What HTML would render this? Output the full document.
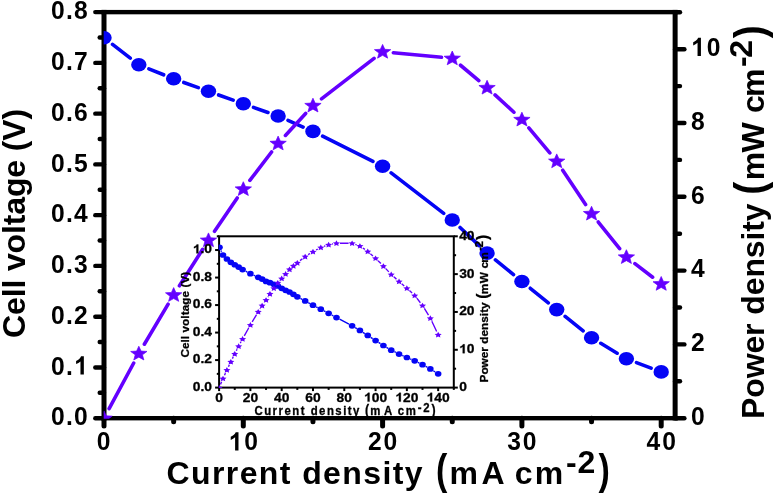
<!DOCTYPE html><html><head><meta charset="utf-8"><style>html,body{margin:0;padding:0;background:#fff;}svg{display:block;will-change:transform}</style></head><body>
<svg width="774" height="494" viewBox="0 0 774 494">
<rect width="774" height="494" fill="#fff"/>
<defs><clipPath id="cm"><rect x="103.70" y="12.12" width="571.43" height="406.58"/></clipPath><clipPath id="ci"><rect x="218.70" y="236.30" width="235.10" height="151.60"/></clipPath></defs>
<g transform="translate(51.03 425.30) scale(0.930 1.000)"><text x="0.00 16.04 24.71" y="0" style='font-family:"Liberation Sans",sans-serif;font-weight:bold;font-size:26.50px;white-space:pre' fill="#000">0.0</text></g>
<g transform="translate(51.03 374.54) scale(0.930 1.000)"><text x="0.00 16.06 24.74" y="0" style='font-family:"Liberation Sans",sans-serif;font-weight:bold;font-size:26.50px;white-space:pre' fill="#000">0. </text><path transform="translate(24.74 0) scale(0.01294 -0.01294)" d="M815 0L534 0L534 1010Q380 880 171 812L171 1052Q281 1088 409 1184Q537 1282 585 1409L815 1409Z" fill="#000"/></g>
<g transform="translate(51.03 323.78) scale(0.930 1.000)"><text x="0.00 16.05 24.71" y="0" style='font-family:"Liberation Sans",sans-serif;font-weight:bold;font-size:26.50px;white-space:pre' fill="#000">0.2</text></g>
<g transform="translate(51.03 273.02) scale(0.930 1.000)"><text x="0.00 16.05 24.72" y="0" style='font-family:"Liberation Sans",sans-serif;font-weight:bold;font-size:26.50px;white-space:pre' fill="#000">0.3</text></g>
<g transform="translate(51.03 222.26) scale(0.930 1.000)"><text x="0.00 16.08 24.78" y="0" style='font-family:"Liberation Sans",sans-serif;font-weight:bold;font-size:26.50px;white-space:pre' fill="#000">0.4</text></g>
<g transform="translate(51.03 171.50) scale(0.930 1.000)"><text x="0.00 16.06 24.74" y="0" style='font-family:"Liberation Sans",sans-serif;font-weight:bold;font-size:26.50px;white-space:pre' fill="#000">0.5</text></g>
<g transform="translate(51.03 120.74) scale(0.930 1.000)"><text x="0.00 16.05 24.72" y="0" style='font-family:"Liberation Sans",sans-serif;font-weight:bold;font-size:26.50px;white-space:pre' fill="#000">0.6</text></g>
<g transform="translate(51.03 69.98) scale(0.930 1.000)"><text x="0.00 16.04 24.71" y="0" style='font-family:"Liberation Sans",sans-serif;font-weight:bold;font-size:26.50px;white-space:pre' fill="#000">0.7</text></g>
<g transform="translate(51.03 19.22) scale(0.930 1.000)"><text x="0.00 16.05 24.73" y="0" style='font-family:"Liberation Sans",sans-serif;font-weight:bold;font-size:26.50px;white-space:pre' fill="#000">0.8</text></g>
<g transform="translate(96.70 450.40) scale(0.930 1.000)"><text x="0.00" y="0" style='font-family:"Liberation Sans",sans-serif;font-weight:bold;font-size:26.50px;white-space:pre' fill="#000">0</text></g>
<g transform="translate(228.68 450.40) scale(0.930 1.000)"><text x="0.00 16.75" y="0" style='font-family:"Liberation Sans",sans-serif;font-weight:bold;font-size:26.50px;white-space:pre' fill="#000"> 0</text><path transform="translate(0.00 0) scale(0.01294 -0.01294)" d="M815 0L534 0L534 1010Q380 880 171 812L171 1052Q281 1088 409 1184Q537 1282 585 1409L815 1409Z" fill="#000"/></g>
<g transform="translate(367.93 450.40) scale(0.930 1.000)"><text x="0.00 16.81" y="0" style='font-family:"Liberation Sans",sans-serif;font-weight:bold;font-size:26.50px;white-space:pre' fill="#000">20</text></g>
<g transform="translate(507.20 450.40) scale(0.930 1.000)"><text x="0.00 16.83" y="0" style='font-family:"Liberation Sans",sans-serif;font-weight:bold;font-size:26.50px;white-space:pre' fill="#000">30</text></g>
<g transform="translate(646.49 450.40) scale(0.930 1.000)"><text x="0.00 16.84" y="0" style='font-family:"Liberation Sans",sans-serif;font-weight:bold;font-size:26.50px;white-space:pre' fill="#000">40</text></g>
<g transform="translate(691.07 424.90) scale(0.930 1.000)"><text x="0.00" y="0" style='font-family:"Liberation Sans",sans-serif;font-weight:bold;font-size:26.50px;white-space:pre' fill="#000">0</text></g>
<g transform="translate(691.06 351.10) scale(0.930 1.000)"><text x="0.00" y="0" style='font-family:"Liberation Sans",sans-serif;font-weight:bold;font-size:26.50px;white-space:pre' fill="#000">2</text></g>
<g transform="translate(691.03 277.30) scale(0.930 1.000)"><text x="0.00" y="0" style='font-family:"Liberation Sans",sans-serif;font-weight:bold;font-size:26.50px;white-space:pre' fill="#000">4</text></g>
<g transform="translate(691.07 203.50) scale(0.930 1.000)"><text x="0.00" y="0" style='font-family:"Liberation Sans",sans-serif;font-weight:bold;font-size:26.50px;white-space:pre' fill="#000">6</text></g>
<g transform="translate(691.06 129.70) scale(0.930 1.000)"><text x="0.00" y="0" style='font-family:"Liberation Sans",sans-serif;font-weight:bold;font-size:26.50px;white-space:pre' fill="#000">8</text></g>
<g transform="translate(691.12 55.90) scale(0.930 1.000)"><text x="0.00 16.75" y="0" style='font-family:"Liberation Sans",sans-serif;font-weight:bold;font-size:26.50px;white-space:pre' fill="#000"> 0</text><path transform="translate(0.00 0) scale(0.01294 -0.01294)" d="M815 0L534 0L534 1010Q380 880 171 812L171 1052Q281 1088 409 1184Q537 1282 585 1409L815 1409Z" fill="#000"/></g>
<g transform="translate(166.49 483.90) scale(1.000 1.000)"><text x="0.00 24.51 45.46 59.31 73.16 92.36 113.31 125.36 135.65 156.60 175.80 196.74 215.94 226.23 238.29" y="0" style='font-family:"Liberation Sans",sans-serif;font-weight:bold;font-size:32.00px;white-space:pre' fill="#000">Current density</text></g>
<g transform="translate(435.91 483.90) scale(0.800 1.000)"><text x="0.00" y="0" style='font-family:"Liberation Sans",sans-serif;font-weight:bold;font-size:42.50px;white-space:pre' fill="#000">(</text></g>
<g transform="translate(449.39 483.90) scale(1.000 1.000)"><text x="0.00 32.14" y="0" style='font-family:"Liberation Sans",sans-serif;font-weight:bold;font-size:32.00px;white-space:pre' fill="#000">mA</text></g>
<g transform="translate(514.75 483.90) scale(1.000 1.000)"><text x="0.00 20.08" y="0" style='font-family:"Liberation Sans",sans-serif;font-weight:bold;font-size:32.00px;white-space:pre' fill="#000">cm</text></g>
<g transform="translate(566.05 473.30) scale(1.000 1.000)"><text x="0.00 11.53" y="0" style='font-family:"Liberation Sans",sans-serif;font-weight:bold;font-size:32.00px;white-space:pre' fill="#000">-2</text></g>
<g transform="translate(598.47 483.90) scale(0.800 1.000)"><text x="0.00" y="0" style='font-family:"Liberation Sans",sans-serif;font-weight:bold;font-size:42.50px;white-space:pre' fill="#000">)</text></g>
<g transform="translate(24.50 337.91) rotate(-90) scale(1.000 1.000)"><text x="0.00 22.97 40.62 49.37 58.11 66.86 84.52 103.92 112.67 123.18 140.83 160.24 177.89 186.64 197.15 218.35" y="0" style='font-family:"Liberation Sans",sans-serif;font-weight:bold;font-size:32.00px;white-space:pre' fill="#000">Cell voltage (V)</text></g>
<g transform="translate(764.00 419.04) rotate(-90) scale(1.000 1.000)"><text x="0.00 21.24 40.68 65.47 83.16 95.51 104.30 123.75 141.44 160.88 178.58 187.36 197.92" y="0" style='font-family:"Liberation Sans",sans-serif;font-weight:bold;font-size:32.00px;white-space:pre' fill="#000">Power density</text></g>
<g transform="translate(764.20 194.64) rotate(-90) scale(0.900 1.000)"><text x="0.00" y="0" style='font-family:"Liberation Sans",sans-serif;font-weight:bold;font-size:43.30px;white-space:pre' fill="#000">(</text></g>
<g transform="translate(764.00 180.21) rotate(-90) scale(1.000 1.000)"><text x="0.00 27.74" y="0" style='font-family:"Liberation Sans",sans-serif;font-weight:bold;font-size:32.00px;white-space:pre' fill="#000">mW</text></g>
<g transform="translate(764.00 112.95) rotate(-90) scale(1.000 1.000)"><text x="0.00 15.98" y="0" style='font-family:"Liberation Sans",sans-serif;font-weight:bold;font-size:32.00px;white-space:pre' fill="#000">cm</text></g>
<g transform="translate(751.80 66.95) rotate(-90) scale(1.000 1.000)"><text x="0.00 9.23" y="0" style='font-family:"Liberation Sans",sans-serif;font-weight:bold;font-size:32.00px;white-space:pre' fill="#000">-2</text></g>
<g transform="translate(764.20 38.34) rotate(-90) scale(0.900 1.000)"><text x="0.00" y="0" style='font-family:"Liberation Sans",sans-serif;font-weight:bold;font-size:43.30px;white-space:pre' fill="#000">)</text></g>
<g fill="#000">
<rect x="101.50" y="9.92" width="576.13" height="4.40"/>
<rect x="101.50" y="416.00" width="576.13" height="4.40"/>
<rect x="101.50" y="9.92" width="5.00" height="410.48"/>
<rect x="672.63" y="9.92" width="5.00" height="410.48"/>
</g>
<g stroke="#000" fill="none" stroke-linecap="round">
<line x1="104.00" y1="418.20" x2="95.30" y2="418.20" stroke-width="4.40"/>
<line x1="104.00" y1="392.82" x2="99.70" y2="392.82" stroke-width="4.40"/>
<line x1="104.00" y1="367.44" x2="95.30" y2="367.44" stroke-width="4.40"/>
<line x1="104.00" y1="342.06" x2="99.70" y2="342.06" stroke-width="4.40"/>
<line x1="104.00" y1="316.68" x2="95.30" y2="316.68" stroke-width="4.40"/>
<line x1="104.00" y1="291.30" x2="99.70" y2="291.30" stroke-width="4.40"/>
<line x1="104.00" y1="265.92" x2="95.30" y2="265.92" stroke-width="4.40"/>
<line x1="104.00" y1="240.54" x2="99.70" y2="240.54" stroke-width="4.40"/>
<line x1="104.00" y1="215.16" x2="95.30" y2="215.16" stroke-width="4.40"/>
<line x1="104.00" y1="189.78" x2="99.70" y2="189.78" stroke-width="4.40"/>
<line x1="104.00" y1="164.40" x2="95.30" y2="164.40" stroke-width="4.40"/>
<line x1="104.00" y1="139.02" x2="99.70" y2="139.02" stroke-width="4.40"/>
<line x1="104.00" y1="113.64" x2="95.30" y2="113.64" stroke-width="4.40"/>
<line x1="104.00" y1="88.26" x2="99.70" y2="88.26" stroke-width="4.40"/>
<line x1="104.00" y1="62.88" x2="95.30" y2="62.88" stroke-width="4.40"/>
<line x1="104.00" y1="37.50" x2="99.70" y2="37.50" stroke-width="4.40"/>
<line x1="104.00" y1="12.12" x2="95.30" y2="12.12" stroke-width="4.40"/>
<line x1="104.00" y1="418.20" x2="104.00" y2="426.00" stroke-width="5.00"/>
<line x1="173.65" y1="418.20" x2="173.65" y2="421.80" stroke-width="5.00"/>
<line x1="243.30" y1="418.20" x2="243.30" y2="426.00" stroke-width="5.00"/>
<line x1="312.95" y1="418.20" x2="312.95" y2="421.80" stroke-width="5.00"/>
<line x1="382.60" y1="418.20" x2="382.60" y2="426.00" stroke-width="5.00"/>
<line x1="452.25" y1="418.20" x2="452.25" y2="421.80" stroke-width="5.00"/>
<line x1="521.90" y1="418.20" x2="521.90" y2="426.00" stroke-width="5.00"/>
<line x1="591.55" y1="418.20" x2="591.55" y2="421.80" stroke-width="5.00"/>
<line x1="661.20" y1="418.20" x2="661.20" y2="426.00" stroke-width="5.00"/>
<line x1="675.13" y1="418.20" x2="684.40" y2="418.20" stroke-width="4.40"/>
<line x1="675.13" y1="381.30" x2="680.00" y2="381.30" stroke-width="4.40"/>
<line x1="675.13" y1="344.40" x2="684.40" y2="344.40" stroke-width="4.40"/>
<line x1="675.13" y1="307.50" x2="680.00" y2="307.50" stroke-width="4.40"/>
<line x1="675.13" y1="270.60" x2="684.40" y2="270.60" stroke-width="4.40"/>
<line x1="675.13" y1="233.70" x2="680.00" y2="233.70" stroke-width="4.40"/>
<line x1="675.13" y1="196.80" x2="684.40" y2="196.80" stroke-width="4.40"/>
<line x1="675.13" y1="159.90" x2="680.00" y2="159.90" stroke-width="4.40"/>
<line x1="675.13" y1="123.00" x2="684.40" y2="123.00" stroke-width="4.40"/>
<line x1="675.13" y1="86.10" x2="680.00" y2="86.10" stroke-width="4.40"/>
<line x1="675.13" y1="49.20" x2="684.40" y2="49.20" stroke-width="4.40"/>
<line x1="675.13" y1="12.30" x2="680.00" y2="12.30" stroke-width="4.40"/>
</g>
<g clip-path="url(#cm)">
<path d="M112.54 44.42 L130.29 58.18 M148.85 68.83 L163.63 74.77 M183.82 82.45 L198.31 87.65 M218.64 94.95 L233.13 100.15 M253.49 107.37 L267.93 112.43 M288.00 120.37 L303.07 127.03 M322.61 136.23 L372.94 161.37 M391.15 172.80 L443.70 213.40 M460.08 227.44 L479.25 245.66 M495.44 259.93 L513.53 274.67 M530.31 288.28 L548.32 302.82 M565.13 316.38 L583.14 330.92 M600.79 343.30 L617.14 353.20 M636.48 362.60 L651.09 368.10" fill="none" stroke="#0505f5" stroke-width="3.60" stroke-linecap="round"/>
<ellipse cx="104.00" cy="37.80" rx="7.7" ry="6.8" fill="#0505f5"/>
<ellipse cx="138.82" cy="64.80" rx="7.7" ry="6.8" fill="#0505f5"/>
<ellipse cx="173.65" cy="78.80" rx="7.7" ry="6.8" fill="#0505f5"/>
<ellipse cx="208.47" cy="91.30" rx="7.7" ry="6.8" fill="#0505f5"/>
<ellipse cx="243.30" cy="103.80" rx="7.7" ry="6.8" fill="#0505f5"/>
<ellipse cx="278.12" cy="116.00" rx="7.7" ry="6.8" fill="#0505f5"/>
<ellipse cx="312.95" cy="131.40" rx="7.7" ry="6.8" fill="#0505f5"/>
<ellipse cx="382.60" cy="166.20" rx="7.7" ry="6.8" fill="#0505f5"/>
<ellipse cx="452.25" cy="220.00" rx="7.7" ry="6.8" fill="#0505f5"/>
<ellipse cx="487.07" cy="253.10" rx="7.7" ry="6.8" fill="#0505f5"/>
<ellipse cx="521.90" cy="281.50" rx="7.7" ry="6.8" fill="#0505f5"/>
<ellipse cx="556.72" cy="309.60" rx="7.7" ry="6.8" fill="#0505f5"/>
<ellipse cx="591.55" cy="337.70" rx="7.7" ry="6.8" fill="#0505f5"/>
<ellipse cx="626.38" cy="358.80" rx="7.7" ry="6.8" fill="#0505f5"/>
<ellipse cx="661.20" cy="371.90" rx="7.7" ry="6.8" fill="#0505f5"/>
<path d="M109.12 408.69 L133.71 363.01 M144.34 344.22 L168.13 304.18 M179.45 285.79 L202.67 249.31 M214.55 231.27 L237.23 197.93 M249.86 180.42 L271.57 151.98 M285.43 135.45 L305.64 113.45 M321.50 98.90 L374.05 58.30 M393.35 52.72 L441.50 57.28 M460.51 65.25 L478.81 80.65 M495.04 94.89 L513.94 112.21 M528.82 127.79 L549.80 152.91 M562.70 170.19 L585.57 204.61 M598.31 222.02 L619.62 248.58 M634.93 263.59 L652.64 277.21" fill="none" stroke="#6400ff" stroke-width="3.60" stroke-linecap="round"/>
<path d="M104.00 410.90 L106.22 415.79 L112.17 416.15 L107.59 419.53 L109.05 424.65 L104.00 421.84 L98.95 424.65 L100.41 419.53 L95.83 416.15 L101.78 415.79Z" fill="#6400ff" stroke="#6400ff" stroke-width="0.7" stroke-linejoin="round"/>
<path d="M138.82 346.20 L141.05 351.09 L146.99 351.45 L142.42 354.83 L143.87 359.95 L138.82 357.14 L133.78 359.95 L135.23 354.83 L130.66 351.45 L136.60 351.09Z" fill="#6400ff" stroke="#6400ff" stroke-width="0.7" stroke-linejoin="round"/>
<path d="M173.65 287.60 L175.87 292.49 L181.82 292.85 L177.24 296.23 L178.70 301.35 L173.65 298.54 L168.60 301.35 L170.06 296.23 L165.48 292.85 L171.43 292.49Z" fill="#6400ff" stroke="#6400ff" stroke-width="0.7" stroke-linejoin="round"/>
<path d="M208.47 232.90 L210.70 237.79 L216.64 238.15 L212.07 241.53 L213.52 246.65 L208.47 243.84 L203.43 246.65 L204.88 241.53 L200.31 238.15 L206.25 237.79Z" fill="#6400ff" stroke="#6400ff" stroke-width="0.7" stroke-linejoin="round"/>
<path d="M243.30 181.70 L245.52 186.59 L251.47 186.95 L246.89 190.33 L248.35 195.45 L243.30 192.64 L238.25 195.45 L239.71 190.33 L235.13 186.95 L241.08 186.59Z" fill="#6400ff" stroke="#6400ff" stroke-width="0.7" stroke-linejoin="round"/>
<path d="M278.12 136.10 L280.35 140.99 L286.29 141.35 L281.72 144.73 L283.17 149.85 L278.12 147.04 L273.08 149.85 L274.53 144.73 L269.96 141.35 L275.90 140.99Z" fill="#6400ff" stroke="#6400ff" stroke-width="0.7" stroke-linejoin="round"/>
<path d="M312.95 98.20 L315.17 103.09 L321.12 103.45 L316.54 106.83 L318.00 111.95 L312.95 109.14 L307.90 111.95 L309.36 106.83 L304.78 103.45 L310.73 103.09Z" fill="#6400ff" stroke="#6400ff" stroke-width="0.7" stroke-linejoin="round"/>
<path d="M382.60 44.40 L384.82 49.29 L390.77 49.65 L386.19 53.03 L387.65 58.15 L382.60 55.34 L377.55 58.15 L379.01 53.03 L374.43 49.65 L380.38 49.29Z" fill="#6400ff" stroke="#6400ff" stroke-width="0.7" stroke-linejoin="round"/>
<path d="M452.25 51.00 L454.47 55.89 L460.42 56.25 L455.84 59.63 L457.30 64.75 L452.25 61.94 L447.20 64.75 L448.66 59.63 L444.08 56.25 L450.03 55.89Z" fill="#6400ff" stroke="#6400ff" stroke-width="0.7" stroke-linejoin="round"/>
<path d="M487.07 80.30 L489.30 85.19 L495.24 85.55 L490.67 88.93 L492.12 94.05 L487.07 91.24 L482.03 94.05 L483.48 88.93 L478.91 85.55 L484.85 85.19Z" fill="#6400ff" stroke="#6400ff" stroke-width="0.7" stroke-linejoin="round"/>
<path d="M521.90 112.20 L524.12 117.09 L530.07 117.45 L525.49 120.83 L526.95 125.95 L521.90 123.14 L516.85 125.95 L518.31 120.83 L513.73 117.45 L519.68 117.09Z" fill="#6400ff" stroke="#6400ff" stroke-width="0.7" stroke-linejoin="round"/>
<path d="M556.72 153.90 L558.95 158.79 L564.89 159.15 L560.32 162.53 L561.77 167.65 L556.72 164.84 L551.68 167.65 L553.13 162.53 L548.56 159.15 L554.50 158.79Z" fill="#6400ff" stroke="#6400ff" stroke-width="0.7" stroke-linejoin="round"/>
<path d="M591.55 206.30 L593.77 211.19 L599.72 211.55 L595.14 214.93 L596.60 220.05 L591.55 217.24 L586.50 220.05 L587.96 214.93 L583.38 211.55 L589.33 211.19Z" fill="#6400ff" stroke="#6400ff" stroke-width="0.7" stroke-linejoin="round"/>
<path d="M626.38 249.70 L628.60 254.59 L634.54 254.95 L629.97 258.33 L631.42 263.45 L626.38 260.64 L621.33 263.45 L622.78 258.33 L618.21 254.95 L624.15 254.59Z" fill="#6400ff" stroke="#6400ff" stroke-width="0.7" stroke-linejoin="round"/>
<path d="M661.20 276.50 L663.42 281.39 L669.37 281.75 L664.79 285.13 L666.25 290.25 L661.20 287.44 L656.15 290.25 L657.61 285.13 L653.03 281.75 L658.98 281.39Z" fill="#6400ff" stroke="#6400ff" stroke-width="0.7" stroke-linejoin="round"/>
</g>
<g transform="translate(192.82 390.90) scale(1.080 1.000)"><text x="0.00 7.12 10.67" y="0" style='font-family:"Liberation Sans",sans-serif;font-weight:bold;font-size:12.80px;white-space:pre' fill="#000" stroke="#000" stroke-width="0.30" stroke-linejoin="round">0.0</text></g>
<g transform="translate(192.82 363.39) scale(1.080 1.000)"><text x="0.00 7.12 10.67" y="0" style='font-family:"Liberation Sans",sans-serif;font-weight:bold;font-size:12.80px;white-space:pre' fill="#000" stroke="#000" stroke-width="0.30" stroke-linejoin="round">0.2</text></g>
<g transform="translate(192.79 335.88) scale(1.080 1.000)"><text x="0.00 7.12 10.68" y="0" style='font-family:"Liberation Sans",sans-serif;font-weight:bold;font-size:12.80px;white-space:pre' fill="#000" stroke="#000" stroke-width="0.30" stroke-linejoin="round">0.4</text></g>
<g transform="translate(192.82 308.37) scale(1.080 1.000)"><text x="0.00 7.12 10.67" y="0" style='font-family:"Liberation Sans",sans-serif;font-weight:bold;font-size:12.80px;white-space:pre' fill="#000" stroke="#000" stroke-width="0.30" stroke-linejoin="round">0.6</text></g>
<g transform="translate(192.81 280.86) scale(1.080 1.000)"><text x="0.00 7.12 10.68" y="0" style='font-family:"Liberation Sans",sans-serif;font-weight:bold;font-size:12.80px;white-space:pre' fill="#000" stroke="#000" stroke-width="0.30" stroke-linejoin="round">0.8</text></g>
<g transform="translate(192.82 253.35) scale(1.080 1.000)"><text x="0.00 7.12 10.68" y="0" style='font-family:"Liberation Sans",sans-serif;font-weight:bold;font-size:12.80px;white-space:pre' fill="#000" stroke="#000" stroke-width="0.30" stroke-linejoin="round"> .0</text><path transform="translate(0.00 0) scale(0.00625 -0.00625)" d="M815 0L534 0L534 1010Q380 880 171 812L171 1052Q281 1088 409 1184Q537 1282 585 1409L815 1409Z" fill="#000" stroke="#000" stroke-width="48.0" stroke-linejoin="round"/></g>
<g transform="translate(215.26 401.60) scale(1.080 1.000)"><text x="0.00" y="0" style='font-family:"Liberation Sans",sans-serif;font-weight:bold;font-size:12.80px;white-space:pre' fill="#000" stroke="#000" stroke-width="0.30" stroke-linejoin="round">0</text></g>
<g transform="translate(242.71 401.60) scale(1.080 1.000)"><text x="0.00 7.12" y="0" style='font-family:"Liberation Sans",sans-serif;font-weight:bold;font-size:12.80px;white-space:pre' fill="#000" stroke="#000" stroke-width="0.30" stroke-linejoin="round">20</text></g>
<g transform="translate(274.01 401.60) scale(1.080 1.000)"><text x="0.00 7.12" y="0" style='font-family:"Liberation Sans",sans-serif;font-weight:bold;font-size:12.80px;white-space:pre' fill="#000" stroke="#000" stroke-width="0.30" stroke-linejoin="round">40</text></g>
<g transform="translate(305.30 401.60) scale(1.080 1.000)"><text x="0.00 7.12" y="0" style='font-family:"Liberation Sans",sans-serif;font-weight:bold;font-size:12.80px;white-space:pre' fill="#000" stroke="#000" stroke-width="0.30" stroke-linejoin="round">60</text></g>
<g transform="translate(336.59 401.60) scale(1.080 1.000)"><text x="0.00 7.12" y="0" style='font-family:"Liberation Sans",sans-serif;font-weight:bold;font-size:12.80px;white-space:pre' fill="#000" stroke="#000" stroke-width="0.30" stroke-linejoin="round">80</text></g>
<g transform="translate(364.03 401.60) scale(1.080 1.000)"><text x="0.00 7.12 14.24" y="0" style='font-family:"Liberation Sans",sans-serif;font-weight:bold;font-size:12.80px;white-space:pre' fill="#000" stroke="#000" stroke-width="0.30" stroke-linejoin="round"> 00</text><path transform="translate(0.00 0) scale(0.00625 -0.00625)" d="M815 0L534 0L534 1010Q380 880 171 812L171 1052Q281 1088 409 1184Q537 1282 585 1409L815 1409Z" fill="#000" stroke="#000" stroke-width="48.0" stroke-linejoin="round"/></g>
<g transform="translate(395.32 401.60) scale(1.080 1.000)"><text x="0.00 7.12 14.24" y="0" style='font-family:"Liberation Sans",sans-serif;font-weight:bold;font-size:12.80px;white-space:pre' fill="#000" stroke="#000" stroke-width="0.30" stroke-linejoin="round"> 20</text><path transform="translate(0.00 0) scale(0.00625 -0.00625)" d="M815 0L534 0L534 1010Q380 880 171 812L171 1052Q281 1088 409 1184Q537 1282 585 1409L815 1409Z" fill="#000" stroke="#000" stroke-width="48.0" stroke-linejoin="round"/></g>
<g transform="translate(426.61 401.60) scale(1.080 1.000)"><text x="0.00 7.12 14.24" y="0" style='font-family:"Liberation Sans",sans-serif;font-weight:bold;font-size:12.80px;white-space:pre' fill="#000" stroke="#000" stroke-width="0.30" stroke-linejoin="round"> 40</text><path transform="translate(0.00 0) scale(0.00625 -0.00625)" d="M815 0L534 0L534 1010Q380 880 171 812L171 1052Q281 1088 409 1184Q537 1282 585 1409L815 1409Z" fill="#000" stroke="#000" stroke-width="48.0" stroke-linejoin="round"/></g>
<g transform="translate(459.16 391.00) scale(1.080 1.000)"><text x="0.00" y="0" style='font-family:"Liberation Sans",sans-serif;font-weight:bold;font-size:12.80px;white-space:pre' fill="#000" stroke="#000" stroke-width="0.30" stroke-linejoin="round">0</text></g>
<g transform="translate(459.14 353.18) scale(1.080 1.000)"><text x="0.00 7.12" y="0" style='font-family:"Liberation Sans",sans-serif;font-weight:bold;font-size:12.80px;white-space:pre' fill="#000" stroke="#000" stroke-width="0.30" stroke-linejoin="round"> 0</text><path transform="translate(0.00 0) scale(0.00625 -0.00625)" d="M815 0L534 0L534 1010Q380 880 171 812L171 1052Q281 1088 409 1184Q537 1282 585 1409L815 1409Z" fill="#000" stroke="#000" stroke-width="48.0" stroke-linejoin="round"/></g>
<g transform="translate(459.16 315.35) scale(1.080 1.000)"><text x="0.00 7.12" y="0" style='font-family:"Liberation Sans",sans-serif;font-weight:bold;font-size:12.80px;white-space:pre' fill="#000" stroke="#000" stroke-width="0.30" stroke-linejoin="round">20</text></g>
<g transform="translate(459.18 277.52) scale(1.080 1.000)"><text x="0.00 7.12" y="0" style='font-family:"Liberation Sans",sans-serif;font-weight:bold;font-size:12.80px;white-space:pre' fill="#000" stroke="#000" stroke-width="0.30" stroke-linejoin="round">30</text></g>
<g transform="translate(459.18 239.70) scale(1.080 1.000)"><text x="0.00 7.12" y="0" style='font-family:"Liberation Sans",sans-serif;font-weight:bold;font-size:12.80px;white-space:pre' fill="#000" stroke="#000" stroke-width="0.30" stroke-linejoin="round">40</text></g>
<g transform="translate(254.43 414.80) scale(0.950 1.000)"><text x="0.00 10.23 19.12 25.35 31.59 39.82 48.71 54.27 59.17 68.06 76.30 85.19 93.43 98.32 103.88" y="0" style='font-family:"Liberation Sans",sans-serif;font-weight:bold;font-size:12.00px;white-space:pre' fill="#000" stroke="#000" stroke-width="0.30" stroke-linejoin="round">Current density</text></g>
<g transform="translate(364.88 414.80) scale(0.800 1.000)"><text x="0.00" y="0" style='font-family:"Liberation Sans",sans-serif;font-weight:bold;font-size:15.50px;white-space:pre' fill="#000" stroke="#000" stroke-width="0.30" stroke-linejoin="round">(</text></g>
<g transform="translate(370.25 414.80) scale(0.950 1.000)"><text x="0.00 14.44" y="0" style='font-family:"Liberation Sans",sans-serif;font-weight:bold;font-size:12.00px;white-space:pre' fill="#000" stroke="#000" stroke-width="0.30" stroke-linejoin="round">mA</text></g>
<g transform="translate(397.65 414.80) scale(0.950 1.000)"><text x="0.00 8.54" y="0" style='font-family:"Liberation Sans",sans-serif;font-weight:bold;font-size:12.00px;white-space:pre' fill="#000" stroke="#000" stroke-width="0.30" stroke-linejoin="round">cm</text></g>
<g transform="translate(417.85 412.40) scale(0.950 1.000)"><text x="0.00 5.64" y="0" style='font-family:"Liberation Sans",sans-serif;font-weight:bold;font-size:12.00px;white-space:pre' fill="#000" stroke="#000" stroke-width="0.30" stroke-linejoin="round">-2</text></g>
<g transform="translate(431.49 414.80) scale(0.800 1.000)"><text x="0.00" y="0" style='font-family:"Liberation Sans",sans-serif;font-weight:bold;font-size:15.50px;white-space:pre' fill="#000" stroke="#000" stroke-width="0.30" stroke-linejoin="round">)</text></g>
<g transform="translate(188.50 357.58) rotate(-90) scale(1.000 1.000)"><text x="0.00 8.53 15.12 18.46 21.79 25.12 31.71 38.94 42.28 46.26 52.85 60.08 66.67 70.00 73.98 81.87" y="0" style='font-family:"Liberation Sans",sans-serif;font-weight:bold;font-size:11.70px;white-space:pre' fill="#000" stroke="#000" stroke-width="0.30" stroke-linejoin="round">Cell voltage (V)</text></g>
<g transform="translate(488.40 382.49) rotate(-90) scale(1.000 1.000)"><text x="0.00 7.88 15.10 24.29 30.87 35.47 38.77 45.99 52.56 59.78 66.36 69.65 73.59" y="0" style='font-family:"Liberation Sans",sans-serif;font-weight:bold;font-size:11.80px;white-space:pre' fill="#000" stroke="#000" stroke-width="0.30" stroke-linejoin="round">Power density</text></g>
<g transform="translate(488.10 298.68) rotate(-90) scale(1.000 1.000)"><text x="0.00" y="0" style='font-family:"Liberation Sans",sans-serif;font-weight:bold;font-size:15.70px;white-space:pre' fill="#000" stroke="#000" stroke-width="0.30" stroke-linejoin="round">(</text></g>
<g transform="translate(488.40 294.28) rotate(-90) scale(1.000 1.000)"><text x="0.00 11.15" y="0" style='font-family:"Liberation Sans",sans-serif;font-weight:bold;font-size:11.80px;white-space:pre' fill="#000" stroke="#000" stroke-width="0.30" stroke-linejoin="round">mW</text></g>
<g transform="translate(488.40 268.46) rotate(-90) scale(1.000 1.000)"><text x="0.00 5.70" y="0" style='font-family:"Liberation Sans",sans-serif;font-weight:bold;font-size:11.80px;white-space:pre' fill="#000" stroke="#000" stroke-width="0.30" stroke-linejoin="round">cm</text></g>
<g transform="translate(482.60 250.66) rotate(-90) scale(1.000 1.000)"><text x="0.00 3.27" y="0" style='font-family:"Liberation Sans",sans-serif;font-weight:bold;font-size:11.80px;white-space:pre' fill="#000" stroke="#000" stroke-width="0.30" stroke-linejoin="round">-2</text></g>
<g transform="translate(488.10 240.12) rotate(-90) scale(1.000 1.000)"><text x="0.00" y="0" style='font-family:"Liberation Sans",sans-serif;font-weight:bold;font-size:15.70px;white-space:pre' fill="#000" stroke="#000" stroke-width="0.30" stroke-linejoin="round">)</text></g>
<g stroke="#000" stroke-width="2.00" fill="none" stroke-linecap="butt">
<rect x="219.10" y="236.30" width="234.70" height="151.30"/>
<line x1="219.10" y1="387.60" x2="215.10" y2="387.60"/>
<line x1="219.10" y1="373.85" x2="216.80" y2="373.85"/>
<line x1="219.10" y1="360.09" x2="215.10" y2="360.09"/>
<line x1="219.10" y1="346.34" x2="216.80" y2="346.34"/>
<line x1="219.10" y1="332.58" x2="215.10" y2="332.58"/>
<line x1="219.10" y1="318.83" x2="216.80" y2="318.83"/>
<line x1="219.10" y1="305.07" x2="215.10" y2="305.07"/>
<line x1="219.10" y1="291.32" x2="216.80" y2="291.32"/>
<line x1="219.10" y1="277.56" x2="215.10" y2="277.56"/>
<line x1="219.10" y1="263.81" x2="216.80" y2="263.81"/>
<line x1="219.10" y1="250.05" x2="215.10" y2="250.05"/>
<line x1="219.10" y1="236.30" x2="216.80" y2="236.30"/>
<line x1="219.10" y1="387.60" x2="219.10" y2="391.10"/>
<line x1="234.75" y1="387.60" x2="234.75" y2="389.90"/>
<line x1="250.39" y1="387.60" x2="250.39" y2="391.10"/>
<line x1="266.04" y1="387.60" x2="266.04" y2="389.90"/>
<line x1="281.69" y1="387.60" x2="281.69" y2="391.10"/>
<line x1="297.33" y1="387.60" x2="297.33" y2="389.90"/>
<line x1="312.98" y1="387.60" x2="312.98" y2="391.10"/>
<line x1="328.63" y1="387.60" x2="328.63" y2="389.90"/>
<line x1="344.28" y1="387.60" x2="344.28" y2="391.10"/>
<line x1="359.92" y1="387.60" x2="359.92" y2="389.90"/>
<line x1="375.57" y1="387.60" x2="375.57" y2="391.10"/>
<line x1="391.22" y1="387.60" x2="391.22" y2="389.90"/>
<line x1="406.86" y1="387.60" x2="406.86" y2="391.10"/>
<line x1="422.51" y1="387.60" x2="422.51" y2="389.90"/>
<line x1="438.16" y1="387.60" x2="438.16" y2="391.10"/>
<line x1="453.80" y1="387.60" x2="453.80" y2="389.90"/>
<line x1="453.80" y1="387.60" x2="457.80" y2="387.60"/>
<line x1="453.80" y1="368.69" x2="456.10" y2="368.69"/>
<line x1="453.80" y1="349.78" x2="457.80" y2="349.78"/>
<line x1="453.80" y1="330.86" x2="456.10" y2="330.86"/>
<line x1="453.80" y1="311.95" x2="457.80" y2="311.95"/>
<line x1="453.80" y1="293.04" x2="456.10" y2="293.04"/>
<line x1="453.80" y1="274.12" x2="457.80" y2="274.12"/>
<line x1="453.80" y1="255.21" x2="456.10" y2="255.21"/>
<line x1="453.80" y1="236.30" x2="457.80" y2="236.30"/>
</g>
<g clip-path="url(#ci)">
<path d="M220.95 250.49 L221.56 251.82 M245.67 271.22 L247.30 272.08 M253.58 275.17 L255.03 275.83 M300.43 298.45 L302.06 299.31 M308.23 302.62 L309.91 303.54 M316.10 306.80 L317.69 307.61 M323.90 310.83 L325.53 311.69 M331.70 315.00 L333.38 315.91 M339.55 319.22 L349.00 324.21 M355.13 327.60 L356.90 328.62 M362.86 332.29 L364.81 333.56 M370.68 337.38 L372.64 338.65 M378.53 342.43 L380.44 343.64 M386.40 347.31 L388.21 348.39 M394.36 351.73 L395.90 352.49 M402.24 355.45 L403.66 356.07 M410.09 358.84 L411.46 359.42 M417.83 362.32 L419.37 363.08 M425.58 366.30 L427.26 367.22 M433.29 370.77 L435.20 371.97" fill="none" stroke="#0505f5" stroke-width="1.40" stroke-linecap="butt"/>
<ellipse cx="219.50" cy="247.30" rx="3.3" ry="2.85" fill="#0505f5"/>
<ellipse cx="223.01" cy="255.01" rx="3.3" ry="2.85" fill="#0505f5"/>
<ellipse cx="226.92" cy="259.00" rx="3.3" ry="2.85" fill="#0505f5"/>
<ellipse cx="230.84" cy="262.30" rx="3.3" ry="2.85" fill="#0505f5"/>
<ellipse cx="234.75" cy="264.77" rx="3.3" ry="2.85" fill="#0505f5"/>
<ellipse cx="238.66" cy="267.11" rx="3.3" ry="2.85" fill="#0505f5"/>
<ellipse cx="242.57" cy="269.59" rx="3.3" ry="2.85" fill="#0505f5"/>
<ellipse cx="250.39" cy="273.71" rx="3.3" ry="2.85" fill="#0505f5"/>
<ellipse cx="258.22" cy="277.29" rx="3.3" ry="2.85" fill="#0505f5"/>
<ellipse cx="262.13" cy="279.08" rx="3.3" ry="2.85" fill="#0505f5"/>
<ellipse cx="266.04" cy="281.41" rx="3.3" ry="2.85" fill="#0505f5"/>
<ellipse cx="269.95" cy="282.65" rx="3.3" ry="2.85" fill="#0505f5"/>
<ellipse cx="273.86" cy="284.30" rx="3.3" ry="2.85" fill="#0505f5"/>
<ellipse cx="277.78" cy="285.95" rx="3.3" ry="2.85" fill="#0505f5"/>
<ellipse cx="281.69" cy="288.29" rx="3.3" ry="2.85" fill="#0505f5"/>
<ellipse cx="285.60" cy="290.36" rx="3.3" ry="2.85" fill="#0505f5"/>
<ellipse cx="289.51" cy="292.01" rx="3.3" ry="2.85" fill="#0505f5"/>
<ellipse cx="293.42" cy="294.34" rx="3.3" ry="2.85" fill="#0505f5"/>
<ellipse cx="297.33" cy="296.82" rx="3.3" ry="2.85" fill="#0505f5"/>
<ellipse cx="305.16" cy="300.95" rx="3.3" ry="2.85" fill="#0505f5"/>
<ellipse cx="312.98" cy="305.21" rx="3.3" ry="2.85" fill="#0505f5"/>
<ellipse cx="320.81" cy="309.20" rx="3.3" ry="2.85" fill="#0505f5"/>
<ellipse cx="328.63" cy="313.33" rx="3.3" ry="2.85" fill="#0505f5"/>
<ellipse cx="336.45" cy="317.59" rx="3.3" ry="2.85" fill="#0505f5"/>
<ellipse cx="352.10" cy="325.84" rx="3.3" ry="2.85" fill="#0505f5"/>
<ellipse cx="359.92" cy="330.38" rx="3.3" ry="2.85" fill="#0505f5"/>
<ellipse cx="367.75" cy="335.47" rx="3.3" ry="2.85" fill="#0505f5"/>
<ellipse cx="375.57" cy="340.56" rx="3.3" ry="2.85" fill="#0505f5"/>
<ellipse cx="383.39" cy="345.51" rx="3.3" ry="2.85" fill="#0505f5"/>
<ellipse cx="391.22" cy="350.19" rx="3.3" ry="2.85" fill="#0505f5"/>
<ellipse cx="399.04" cy="354.04" rx="3.3" ry="2.85" fill="#0505f5"/>
<ellipse cx="406.86" cy="357.48" rx="3.3" ry="2.85" fill="#0505f5"/>
<ellipse cx="414.69" cy="360.78" rx="3.3" ry="2.85" fill="#0505f5"/>
<ellipse cx="422.51" cy="364.63" rx="3.3" ry="2.85" fill="#0505f5"/>
<ellipse cx="430.33" cy="368.89" rx="3.3" ry="2.85" fill="#0505f5"/>
<ellipse cx="438.16" cy="373.85" rx="3.3" ry="2.85" fill="#0505f5"/>
<path d="M220.48 384.38 L221.63 381.70 M224.47 375.30 L225.47 373.10 M228.44 366.76 L229.32 364.91 M232.38 358.62 L233.20 356.96 M236.34 350.71 L237.06 349.30 M240.32 343.10 L240.91 342.00 M244.28 335.87 L248.68 328.01 M252.18 321.95 L256.43 314.77 M260.08 308.80 L260.27 308.49 M267.91 297.04 L268.08 296.76 M300.07 260.59 L302.42 258.72 M308.13 254.68 L310.01 253.51 M316.07 250.00 L317.72 249.11 M324.10 246.27 L325.34 245.81 M332.07 244.00 L333.01 243.83 M339.95 243.21 L348.60 243.23 M355.40 244.40 L356.62 244.83 M362.80 247.98 L364.87 249.42 M370.38 253.71 L372.93 255.94 M378.04 260.71 L380.92 263.59 M385.79 268.62 L388.83 271.87 M393.82 276.77 L396.44 279.12 M401.69 283.75 L404.21 285.91 M409.44 290.57 L412.11 293.03 M416.83 298.17 L420.37 302.72 M424.35 308.46 L428.50 315.18 M431.83 321.32 L436.66 331.48" fill="none" stroke="#6400ff" stroke-width="1.40" stroke-linecap="butt"/>
<path d="M219.10 384.75 L220.19 386.63 L222.64 386.93 L220.87 388.39 L221.28 390.45 L219.10 389.48 L216.92 390.45 L217.33 388.39 L215.56 386.93 L218.01 386.63Z" fill="#6400ff"/>
<path d="M223.01 375.63 L224.10 377.51 L226.55 377.81 L224.78 379.27 L225.20 381.33 L223.01 380.36 L220.83 381.33 L221.24 379.27 L219.48 377.81 L221.92 377.51Z" fill="#6400ff"/>
<path d="M226.92 367.07 L228.02 368.94 L230.46 369.24 L228.69 370.70 L229.11 372.77 L226.92 371.79 L224.74 372.77 L225.16 370.70 L223.39 369.24 L225.83 368.94Z" fill="#6400ff"/>
<path d="M230.84 358.91 L231.93 360.78 L234.37 361.08 L232.60 362.54 L233.02 364.60 L230.84 363.63 L228.65 364.60 L229.07 362.54 L227.30 361.08 L229.74 360.78Z" fill="#6400ff"/>
<path d="M234.75 350.97 L235.84 352.85 L238.28 353.15 L236.51 354.61 L236.93 356.67 L234.75 355.70 L232.56 356.67 L232.98 354.61 L231.21 353.15 L233.65 352.85Z" fill="#6400ff"/>
<path d="M238.66 343.33 L239.75 345.21 L242.19 345.51 L240.43 346.97 L240.84 349.03 L238.66 348.06 L236.47 349.03 L236.89 346.97 L235.12 345.51 L237.57 345.21Z" fill="#6400ff"/>
<path d="M242.57 336.07 L243.66 337.95 L246.11 338.25 L244.34 339.71 L244.76 341.77 L242.57 340.79 L240.39 341.77 L240.80 339.71 L239.04 338.25 L241.48 337.95Z" fill="#6400ff"/>
<path d="M250.39 322.11 L251.49 323.99 L253.93 324.29 L252.16 325.75 L252.58 327.81 L250.39 326.84 L248.21 327.81 L248.63 325.75 L246.86 324.29 L249.30 323.99Z" fill="#6400ff"/>
<path d="M258.22 308.91 L259.31 310.79 L261.75 311.09 L259.99 312.55 L260.40 314.61 L258.22 313.64 L256.03 314.61 L256.45 312.55 L254.68 311.09 L257.13 310.79Z" fill="#6400ff"/>
<path d="M262.13 302.68 L263.22 304.56 L265.66 304.86 L263.90 306.32 L264.31 308.38 L262.13 307.40 L259.94 308.38 L260.36 306.32 L258.59 304.86 L261.04 304.56Z" fill="#6400ff"/>
<path d="M266.04 297.15 L267.13 299.02 L269.58 299.32 L267.81 300.78 L268.23 302.85 L266.04 301.87 L263.86 302.85 L264.27 300.78 L262.51 299.32 L264.95 299.02Z" fill="#6400ff"/>
<path d="M269.95 290.95 L271.05 292.83 L273.49 293.13 L271.72 294.59 L272.14 296.65 L269.95 295.68 L267.77 296.65 L268.19 294.59 L266.42 293.13 L268.86 292.83Z" fill="#6400ff"/>
<path d="M273.86 285.33 L274.96 287.20 L277.40 287.50 L275.63 288.96 L276.05 291.03 L273.86 290.05 L271.68 291.03 L272.10 288.96 L270.33 287.50 L272.77 287.20Z" fill="#6400ff"/>
<path d="M277.78 279.93 L278.87 281.80 L281.31 282.10 L279.54 283.56 L279.96 285.63 L277.78 284.65 L275.59 285.63 L276.01 283.56 L274.24 282.10 L276.68 281.80Z" fill="#6400ff"/>
<path d="M281.69 275.51 L282.78 277.39 L285.22 277.69 L283.46 279.15 L283.87 281.21 L281.69 280.24 L279.50 281.21 L279.92 279.15 L278.15 277.69 L280.60 277.39Z" fill="#6400ff"/>
<path d="M285.60 271.10 L286.69 272.97 L289.13 273.27 L287.37 274.73 L287.78 276.79 L285.60 275.82 L283.41 276.79 L283.83 274.73 L282.06 273.27 L284.51 272.97Z" fill="#6400ff"/>
<path d="M289.51 266.45 L290.60 268.33 L293.05 268.63 L291.28 270.09 L291.70 272.15 L289.51 271.18 L287.33 272.15 L287.74 270.09 L285.98 268.63 L288.42 268.33Z" fill="#6400ff"/>
<path d="M293.42 262.93 L294.52 264.81 L296.96 265.11 L295.19 266.57 L295.61 268.63 L293.42 267.66 L291.24 268.63 L291.66 266.57 L289.89 265.11 L292.33 264.81Z" fill="#6400ff"/>
<path d="M297.33 259.93 L298.43 261.80 L300.87 262.10 L299.10 263.56 L299.52 265.63 L297.33 264.65 L295.15 265.63 L295.57 263.56 L293.80 262.10 L296.24 261.80Z" fill="#6400ff"/>
<path d="M305.16 253.69 L306.25 255.56 L308.69 255.86 L306.93 257.32 L307.34 259.38 L305.16 258.41 L302.97 259.38 L303.39 257.32 L301.62 255.86 L304.07 255.56Z" fill="#6400ff"/>
<path d="M312.98 248.81 L314.07 250.68 L316.52 250.98 L314.75 252.44 L315.17 254.51 L312.98 253.53 L310.80 254.51 L311.21 252.44 L309.45 250.98 L311.89 250.68Z" fill="#6400ff"/>
<path d="M320.81 244.61 L321.90 246.48 L324.34 246.78 L322.57 248.25 L322.99 250.31 L320.81 249.33 L318.62 250.31 L319.04 248.25 L317.27 246.78 L319.71 246.48Z" fill="#6400ff"/>
<path d="M328.63 241.77 L329.72 243.65 L332.16 243.95 L330.40 245.41 L330.81 247.47 L328.63 246.50 L326.44 247.47 L326.86 245.41 L325.09 243.95 L327.54 243.65Z" fill="#6400ff"/>
<path d="M336.45 240.35 L337.54 242.23 L339.99 242.53 L338.22 243.99 L338.64 246.05 L336.45 245.08 L334.27 246.05 L334.68 243.99 L332.92 242.53 L335.36 242.23Z" fill="#6400ff"/>
<path d="M352.10 240.39 L353.19 242.27 L355.63 242.57 L353.87 244.03 L354.28 246.09 L352.10 245.12 L349.91 246.09 L350.33 244.03 L348.56 242.57 L351.01 242.27Z" fill="#6400ff"/>
<path d="M359.92 243.13 L361.02 245.01 L363.46 245.31 L361.69 246.77 L362.11 248.83 L359.92 247.86 L357.74 248.83 L358.16 246.77 L356.39 245.31 L358.83 245.01Z" fill="#6400ff"/>
<path d="M367.75 248.56 L368.84 250.44 L371.28 250.74 L369.51 252.20 L369.93 254.26 L367.75 253.29 L365.56 254.26 L365.98 252.20 L364.21 250.74 L366.65 250.44Z" fill="#6400ff"/>
<path d="M375.57 255.39 L376.66 257.26 L379.11 257.57 L377.34 259.03 L377.75 261.09 L375.57 260.11 L373.39 261.09 L373.80 259.03 L372.03 257.57 L374.48 257.26Z" fill="#6400ff"/>
<path d="M383.39 263.22 L384.49 265.09 L386.93 265.39 L385.16 266.85 L385.58 268.92 L383.39 267.94 L381.21 268.92 L381.63 266.85 L379.86 265.39 L382.30 265.09Z" fill="#6400ff"/>
<path d="M391.22 271.58 L392.31 273.45 L394.75 273.75 L392.98 275.21 L393.40 277.28 L391.22 276.30 L389.03 277.28 L389.45 275.21 L387.68 273.75 L390.12 273.45Z" fill="#6400ff"/>
<path d="M399.04 278.61 L400.13 280.49 L402.58 280.79 L400.81 282.25 L401.23 284.31 L399.04 283.34 L396.86 284.31 L397.27 282.25 L395.51 280.79 L397.95 280.49Z" fill="#6400ff"/>
<path d="M406.86 285.35 L407.96 287.22 L410.40 287.52 L408.63 288.98 L409.05 291.04 L406.86 290.07 L404.68 291.04 L405.10 288.98 L403.33 287.52 L405.77 287.22Z" fill="#6400ff"/>
<path d="M414.69 292.55 L415.78 294.43 L418.22 294.73 L416.46 296.19 L416.87 298.25 L414.69 297.28 L412.50 298.25 L412.92 296.19 L411.15 294.73 L413.60 294.43Z" fill="#6400ff"/>
<path d="M422.51 302.63 L423.60 304.51 L426.05 304.81 L424.28 306.27 L424.70 308.33 L422.51 307.36 L420.33 308.33 L420.74 306.27 L418.98 304.81 L421.42 304.51Z" fill="#6400ff"/>
<path d="M430.33 315.30 L431.43 317.18 L433.87 317.48 L432.10 318.94 L432.52 321.00 L430.33 320.03 L428.15 321.00 L428.57 318.94 L426.80 317.48 L429.24 317.18Z" fill="#6400ff"/>
<path d="M438.16 331.80 L439.25 333.67 L441.69 333.97 L439.93 335.43 L440.34 337.49 L438.16 336.52 L435.97 337.49 L436.39 335.43 L434.62 333.97 L437.07 333.67Z" fill="#6400ff"/>
</g>
</svg></body></html>
